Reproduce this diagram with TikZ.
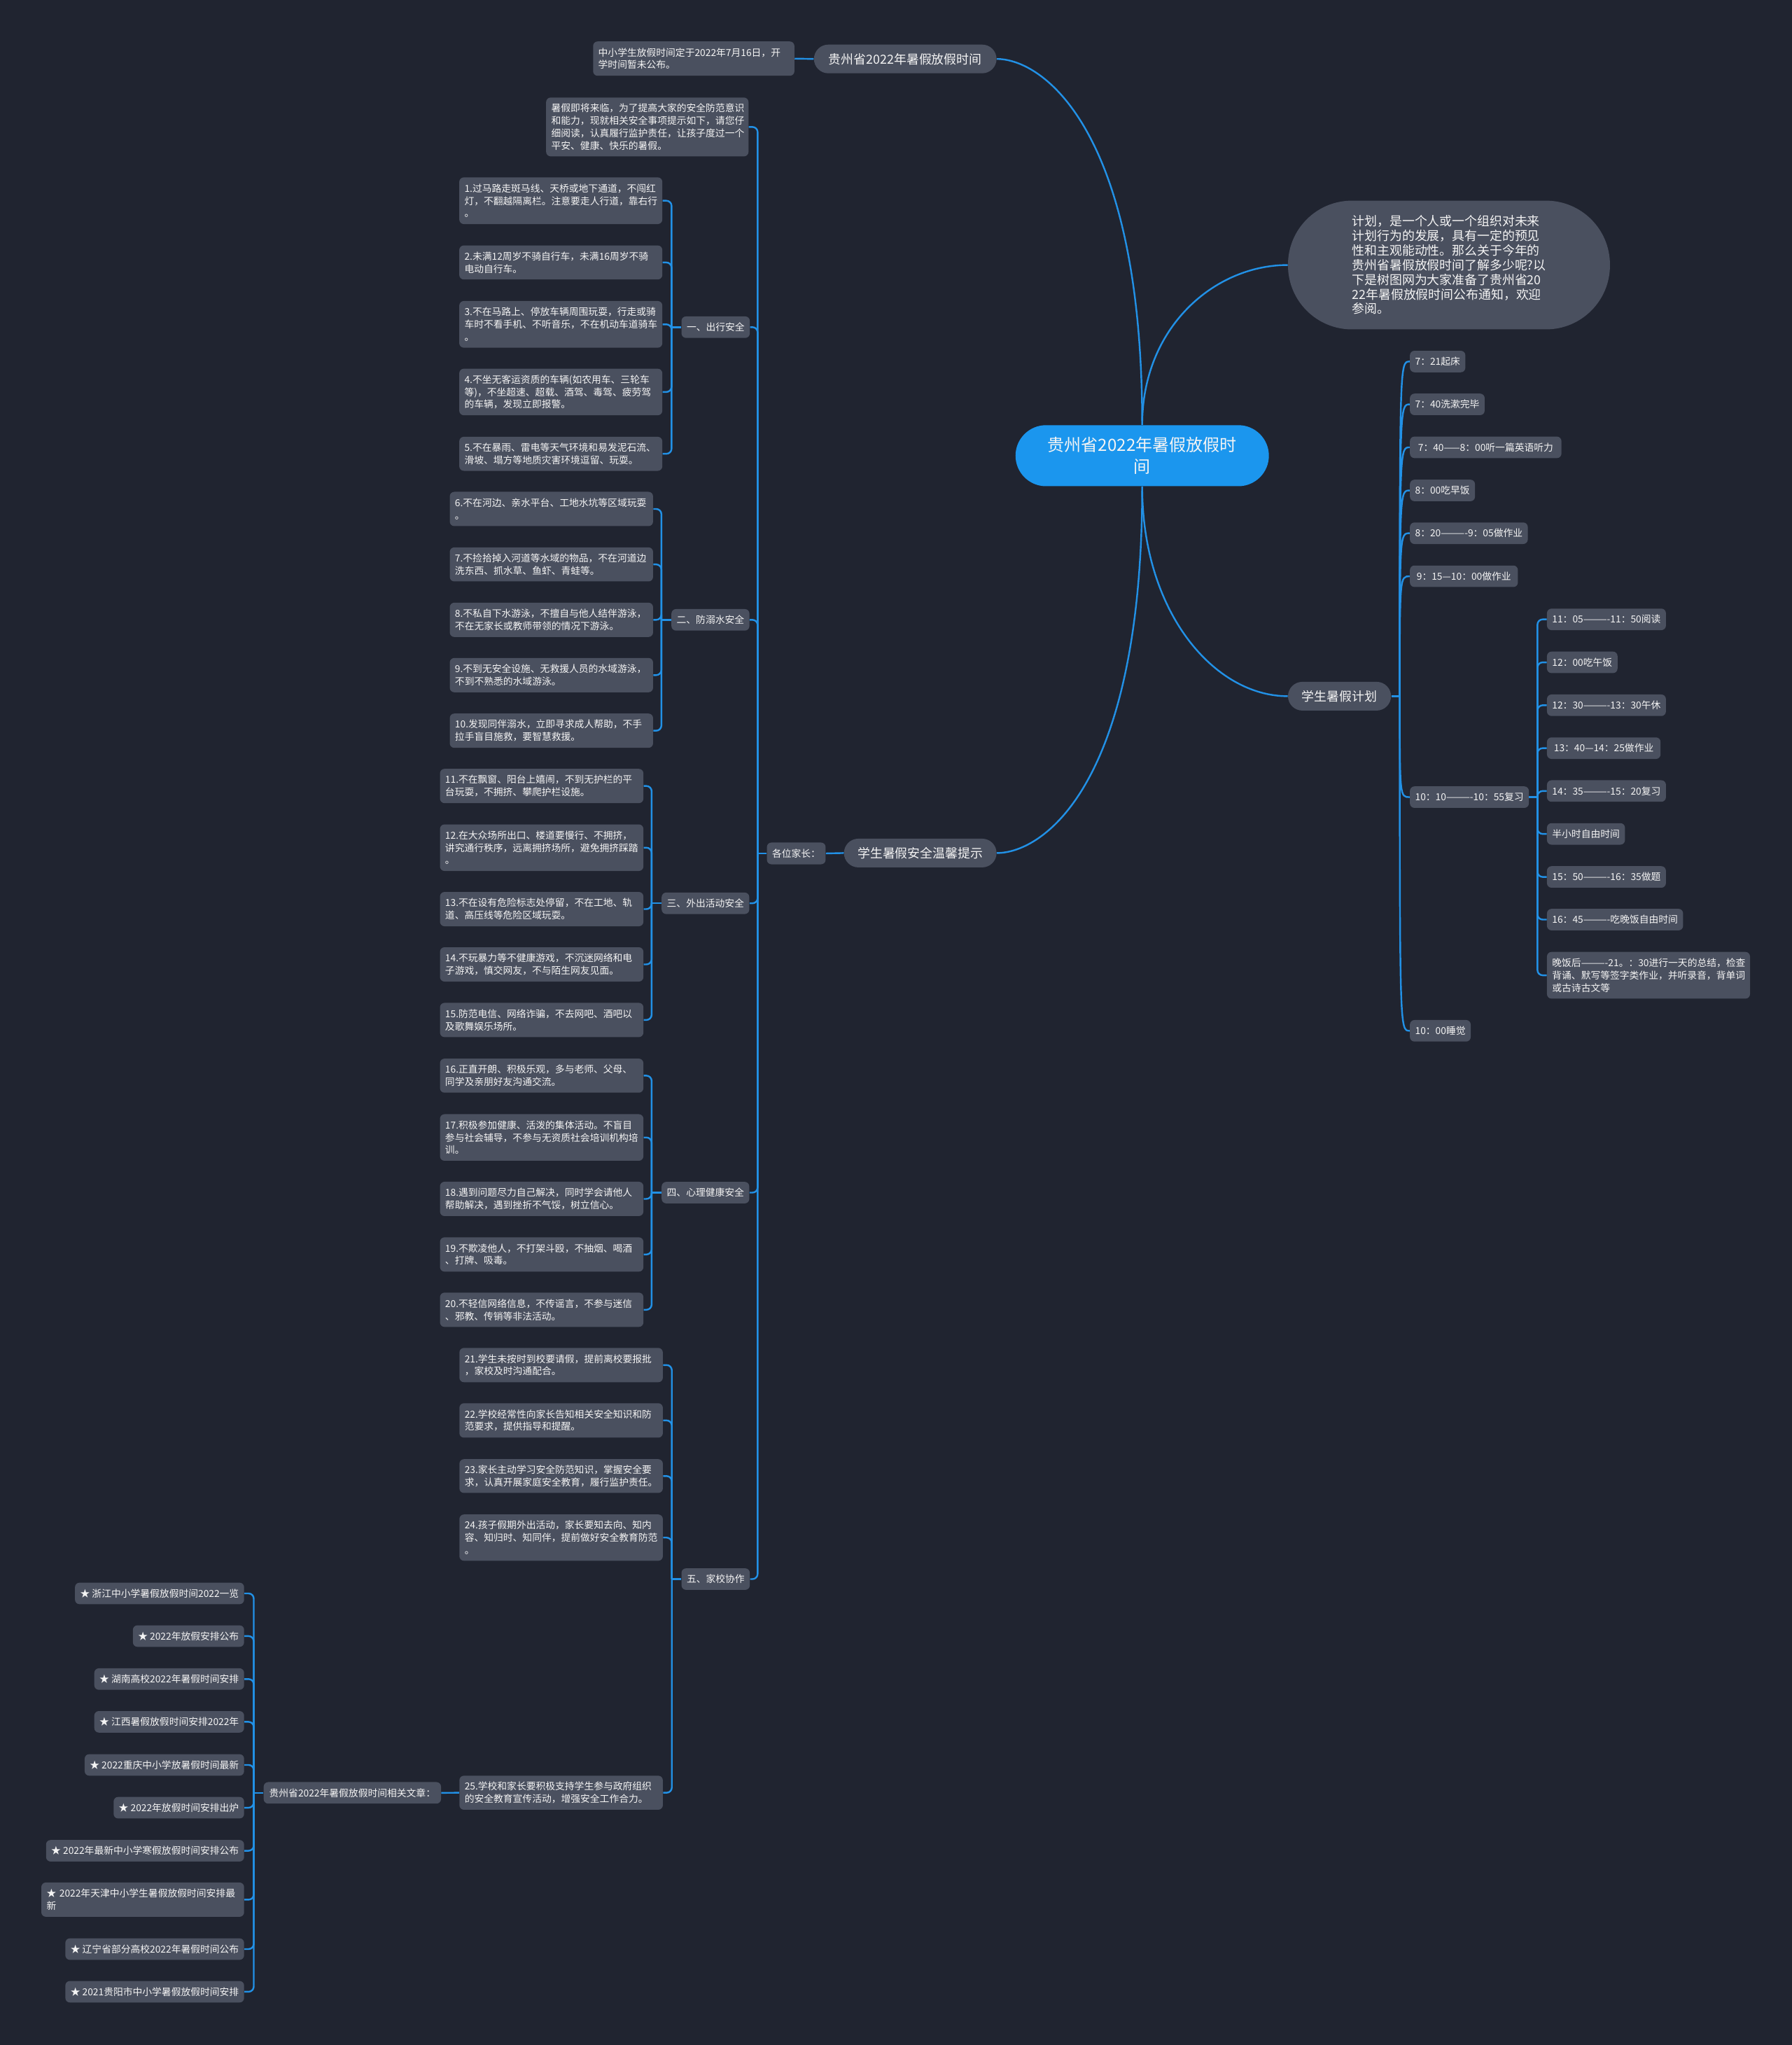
\documentclass[tikz,border=0pt]{standalone}
\usepackage{fontspec}
\setmainfont{Noto Sans CJK SC}
\definecolor{bg}{HTML}{202430}
\definecolor{nodefill}{HTML}{4A505F}
\definecolor{linec}{HTML}{2291E6}
\definecolor{centerfill}{HTML}{1B96EE}
\definecolor{txt}{HTML}{F4F4F4}
\newcommand\myfs{\fontsize{7.4pt}{9.55pt}\selectfont}
\newcommand\mybigfs{\fontsize{9.6pt}{11.2pt}\selectfont}
\newcommand\mycfs{\fontsize{12.9pt}{16.7pt}\selectfont}
\begin{document}
\begin{tikzpicture}[x=1pt,y=-1pt,
  conn/.style={draw=linec, line width=1.3pt},
  rconn/.style={conn, rounded corners=4pt},
  box/.style={fill=nodefill, rounded corners=3.5pt, text=txt, inner xsep=4pt, inner ysep=0pt, font=\myfs, anchor=west, minimum height=16.5},
  boxe/.style={box, anchor=east},
  pill/.style={fill=nodefill, rounded corners=11pt, text=txt, font=\mybigfs, inner sep=0pt, minimum height=22, anchor=west}
]
\fill[bg] (0,0) rectangle (1374,1568);
\useasboundingbox (0,0) rectangle (1374,1568);

% ---------- center ----------
\node[fill=centerfill, rounded corners=23.4pt, text=txt, font=\mycfs, align=center, inner sep=0pt, minimum width=194.3, minimum height=46.8] (center) at (875.9,349.4) {贵州省2022年暑假放假时\\间};

% ---------- top branch ----------
\node[pill, minimum width=140] (top) at (624,45.2) {贵州省2022年暑假放假时间};
\node[box, text width=146.4, align=left, minimum height=26.3] (a1) at (454.6,44.95) {中小学生放假时间定于2022年7月16日，开\\学时间暂未公布。};

% ---------- bubble ----------
\node[fill=nodefill, rounded corners=49pt, text=txt, font=\mybigfs, align=left, inner sep=0pt, minimum width=246.9, minimum height=98.7, anchor=west] (bubble) at (987.5,203.2) {计划，是一个人或一个组织对未来\\计划行为的发展，具有一定的预见\\性和主观能动性。那么关于今年的\\贵州省暑假放假时间了解多少呢?以\\下是树图网为大家准备了贵州省20\\22年暑假放假时间公布通知，欢迎\\参阅。};

% ---------- plan ----------
\node[pill, minimum width=79] (plan) at (987.5,533.8) {学生暑假计划};
\node[box, minimum width=42.1] (s1) at (1081,277.2) {7：21起床};
\node[box, minimum width=57.2] (s2) at (1081,310.05) {7：40洗漱完毕};
\node[box, minimum width=116.2] (s3) at (1081,343) {7：40——8：00听一篇英语听力};
\node[box, minimum width=49.7] (s4) at (1081,376.05) {8：00吃早饭};
\node[box, minimum width=89.6] (s5) at (1081,408.85) {8：20———-9：05做作业};
\node[box, minimum width=82.8] (s6) at (1081,441.85) {9：15—10：00做作业};
\node[box, minimum width=90.8] (s7) at (1081,611.2) {10：10———-10：55复习};
\node[box, minimum width=46.6] (s8) at (1081,790.35) {10：00睡觉};
\node[box, minimum width=90.9] (t1) at (1186.1,474.9) {11：05———-11：50阅读};
\node[box, minimum width=54.1] (t2) at (1186.1,507.85) {12：00吃午饭};
\node[box, minimum width=90.9] (t3) at (1186.1,540.75) {12：30———-13：30午休};
\node[box, minimum width=87.1] (t4) at (1186.1,573.65) {13：40—14：25做作业};
\node[box, minimum width=90.9] (t5) at (1186.1,606.5) {14：35———-15：20复习};
\node[box, minimum width=59.1] (t6) at (1186.1,639.4) {半小时自由时间};
\node[box, minimum width=90.9] (t7) at (1186.1,672.4) {15：50———-16：35做题};
\node[box, minimum width=103.2] (t8) at (1186.1,705.1) {16：45———-吃晚饭自由时间};
\node[box, text width=147.7, align=left, minimum height=35.8] (t9) at (1186.1,747.8) {\mbox{晚饭后———-21。：30进行一天的总结，检查}\\背诵、默写等签字类作业，并听录音，背单词\\或古诗古文等};

% ---------- safety ----------
\node[pill, minimum width=117] (safety) at (647,654.05) {学生暑假安全温馨提示};
\node[box, minimum width=44.4, minimum height=16.7] (parents) at (587.9,654.35) {各位家长：};
\node[box, text width=147.2, align=left, minimum height=45.1] (intro) at (418.6,97.35) {暑假即将来临，为了提高大家的安全防范意识\\和能力，现就相关安全事项提示如下，请您仔\\细阅读，认真履行监护责任，让孩子度过一个\\平安、健康、快乐的暑假。};

\node[box, minimum width=51.5] (g1) at (522.4,250.85) {一、出行安全};
\node[box, minimum width=59.2] (g2) at (514.7,475.25) {二、防溺水安全};
\node[box, minimum width=66.5] (g3) at (507.2,692.6) {三、外出活动安全};
\node[box, minimum width=66.5] (g4) at (507.2,914.45) {四、心理健康安全};
\node[box, minimum width=51.3] (g5) at (522.4,1210.75) {五、家校协作};

% group 1
\node[box, text width=147.7, align=left, minimum height=35.8] (i1) at (352,153.9) {1.过马路走斑马线、天桥或地下通道，不闯红\\灯，不翻越隔离栏。注意要走人行道，靠右行\\。};
\node[box, text width=147.7, align=left, minimum height=26.1] (i2) at (352,201.25) {2.未满12周岁不骑自行车，未满16周岁不骑\\电动自行车。};
\node[box, text width=147.7, align=left, minimum height=35.8] (i3) at (352,248.7) {3.不在马路上、停放车辆周围玩耍，行走或骑\\车时不看手机、不听音乐，不在机动车道骑车\\。};
\node[box, text width=147.7, align=left, minimum height=35.7] (i4) at (352,300.55) {4.不坐无客运资质的车辆(如农用车、三轮车\\等)，不坐超速、超载、酒驾、毒驾、疲劳驾\\的车辆，发现立即报警。};
\node[box, text width=147.7, align=left, minimum height=26.1] (i5) at (352,347.95) {5.不在暴雨、雷电等天气环境和易发泥石流、\\滑坡、塌方等地质灾害环境逗留、玩耍。};
% group 2
\node[box, text width=147.9, align=left, minimum height=26.3] (i6) at (344.7,390.25) {6.不在河边、亲水平台、工地水坑等区域玩耍\\。};
\node[box, text width=147.9, align=left, minimum height=26.1] (i7) at (344.7,432.75) {7.不捡拾掉入河道等水域的物品，不在河道边\\洗东西、抓水草、鱼虾、青蛙等。};
\node[box, text width=147.9, align=left, minimum height=26.3] (i8) at (344.7,475.25) {8.不私自下水游泳，不擅自与他人结伴游泳，\\不在无家长或教师带领的情况下游泳。};
\node[box, text width=147.9, align=left, minimum height=26.3] (i9) at (344.7,517.65) {9.不到无安全设施、无救援人员的水域游泳，\\不到不熟悉的水域游泳。};
\node[box, text width=147.9, align=left, minimum height=26.3] (i10) at (344.7,560.25) {10.发现同伴溺水，立即寻求成人帮助，不手\\拉手盲目施救，要智慧救援。};
% group 3
\node[box, text width=148, align=left, minimum height=26.3] (i11) at (337.2,602.65) {11.不在飘窗、阳台上嬉闹，不到无护栏的平\\台玩耍，不拥挤、攀爬护栏设施。};
\node[box, text width=148, align=left, minimum height=35.7] (i12) at (337.2,649.95) {12.在大众场所出口、楼道要慢行、不拥挤，\\讲究通行秩序，远离拥挤场所，避免拥挤踩踏\\。};
\node[box, text width=148, align=left, minimum height=26.3] (i13) at (337.2,697.05) {13.不在设有危险标志处停留，不在工地、轨\\道、高压线等危险区域玩耍。};
\node[box, text width=148, align=left, minimum height=26.3] (i14) at (337.2,739.45) {14.不玩暴力等不健康游戏，不沉迷网络和电\\子游戏，慎交网友，不与陌生网友见面。};
\node[box, text width=148, align=left, minimum height=26.3] (i15) at (337.2,782.05) {15.防范电信、网络诈骗，不去网吧、酒吧以\\及歌舞娱乐场所。};
% group 4
\node[box, text width=148, align=left, minimum height=26.1] (i16) at (337.2,824.75) {16.正直开朗、积极乐观，多与老师、父母、\\同学及亲朋好友沟通交流。};
\node[box, text width=148, align=left, minimum height=35.7] (i17) at (337.2,872.15) {17.积极参加健康、活泼的集体活动。不盲目\\参与社会辅导，不参与无资质社会培训机构培\\训。};
\node[box, text width=148, align=left, minimum height=26.3] (i18) at (337.2,919.25) {18.遇到问题尽力自己解决，同时学会请他人\\帮助解决，遇到挫折不气馁，树立信心。};
\node[box, text width=148, align=left, minimum height=26.3] (i19) at (337.2,961.85) {19.不欺凌他人，不打架斗殴，不抽烟、喝酒\\、打牌、吸毒。};
\node[box, text width=148, align=left, minimum height=26.3] (i20) at (337.2,1004.25) {20.不轻信网络信息，不传谣言，不参与迷信\\、邪教、传销等非法活动。};
% group 5
\node[box, text width=148, align=left, minimum height=26.3] (i21) at (352.1,1046.65) {21.学生未按时到校要请假，提前离校要报批\\，家校及时沟通配合。};
\node[box, text width=148, align=left, minimum height=26.4] (i22) at (352.1,1089.1) {22.学校经常性向家长告知相关安全知识和防\\范要求，提供指导和提醒。};
\node[box, text width=148, align=left, minimum height=25.9] (i23) at (352.1,1131.75) {23.家长主动学习安全防范知识，掌握安全要\\求，认真开展家庭安全教育，履行监护责任。};
\node[box, text width=148, align=left, minimum height=35.5] (i24) at (352.1,1178.95) {24.孩子假期外出活动，家长要知去向、知内\\容、知归时、知同伴，提前做好安全教育防范\\。};
\node[box, text width=148, align=left, minimum height=26.1] (i25) at (352.1,1374.55) {25.学校和家长要积极支持学生参与政府组织\\的安全教育宣传活动，增强安全工作合力。};

% related articles
\node[box, minimum width=136] (rel) at (202,1374.65) {贵州省2022年暑假放假时间相关文章：};
\node[boxe, minimum width=128.9] (st1) at (187.4,1221.75) {★~浙江中小学暑假放假时间2022一览};
\node[boxe, minimum width=84.3] (st2) at (187.4,1254.45) {★~2022年放假安排公布};
\node[boxe, minimum width=114.1] (st3) at (187.4,1287.4) {★~湖南高校2022年暑假时间安排};
\node[boxe, minimum width=114.1] (st4) at (187.4,1320.2) {★~江西暑假放假时间安排2022年};
\node[boxe, minimum width=121.5] (st5) at (187.4,1353.25) {★~2022重庆中小学放暑假时间最新};
\node[boxe, minimum width=99.2] (st6) at (187.4,1386.05) {★~2022年放假时间安排出炉};
\node[boxe, minimum width=151.3] (st7) at (187.4,1419.05) {★~2022年最新中小学寒假放假时间安排公布};
\node[boxe, text width=147.5, align=left, minimum height=26.3] (st8) at (187.4,1456.55) {★~2022年天津中小学生暑假放假时间安排最\\新};
\node[boxe, minimum width=136.5] (st9) at (187.4,1494.45) {★~辽宁省部分高校2022年暑假时间公布};
\node[boxe, minimum width=136.5] (st10) at (187.4,1527.15) {★~2021贵阳市中小学暑假放假时间安排};

% ---------- connectors ----------
\draw[conn] (center.north) .. controls +(0,-225) and +(36,0) .. (top.east);
\draw[conn] (center.north) .. controls +(0,-75) and +(-56,0) .. (bubble.west);
\draw[conn] (center.south) .. controls +(0,97) and +(-56,0) .. (plan.west);
\draw[conn] (center.south) .. controls +(0,228) and +(36,0) .. (safety.east);
\draw[conn] (top.west) -- (a1.east);

% plan
\coordinate (pj) at (1073.4,533.8);
\draw[conn] (plan.east) -- (pj);
\foreach \n in {s1,s2,s3,s4,s5,s6,s7,s8}
  \draw[conn] (pj) .. controls (pj |- \n.west) .. (\n.west);
\coordinate (bs) at (1179,611.2);
\draw[conn] (s7.east) -- (bs);
\foreach \n in {t1,t2,t3,t4,t5,t6,t7,t8,t9}
  \draw[rconn] (bs) |- (\n.west);

% safety
\draw[conn] (safety.west) -- (parents.east);
\coordinate (lt) at (581,654.35);
\draw[conn] (parents.west) -- (lt);
\foreach \n in {intro,g1,g2,g3,g4,g5}
  \draw[rconn] (lt) |- (\n.east);

\coordinate (b1) at (515,250.85);
\draw[conn] (g1.west) -- (b1);
\foreach \n in {i1,i2,i3,i4,i5} \draw[rconn] (b1) |- (\n.east);
\coordinate (b2) at (507.2,475.25);
\draw[conn] (g2.west) -- (b2);
\foreach \n in {i6,i7,i8,i9,i10} \draw[rconn] (b2) |- (\n.east);
\coordinate (b3) at (499.7,692.6);
\draw[conn] (g3.west) -- (b3);
\foreach \n in {i11,i12,i13,i14,i15} \draw[rconn] (b3) |- (\n.east);
\coordinate (b4) at (499.7,914.45);
\draw[conn] (g4.west) -- (b4);
\foreach \n in {i16,i17,i18,i19,i20} \draw[rconn] (b4) |- (\n.east);
\coordinate (b5) at (515.2,1210.75);
\draw[conn] (g5.west) -- (b5);
\foreach \n in {i21,i22,i23,i24,i25} \draw[rconn] (b5) |- (\n.east);

\draw[conn] (i25.west) -- (rel.east);
\coordinate (br) at (194.6,1374.65);
\draw[conn] (rel.west) -- (br);
\foreach \n in {st1,st2,st3,st4,st5,st6,st7,st8,st9,st10} \draw[rconn] (br) |- (\n.east);
\end{tikzpicture}
\end{document}
